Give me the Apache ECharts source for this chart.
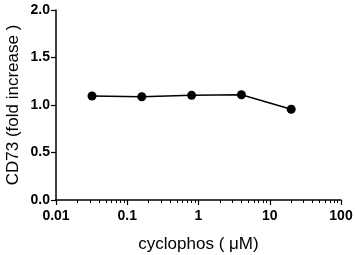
<!DOCTYPE html>
<html>
<head>
<meta charset="utf-8">
<script src="https://cdn.jsdelivr.net/npm/echarts@6/dist/echarts.min.js"></script>
<style>
  html, body { margin: 0; padding: 0; background: #fff; }
  #chart { width: 355px; height: 255px; }
</style>
</head>
<body>
<div id="chart"></div>
<script>
// 数据
var concentrations = [0.032, 0.16, 0.8, 4, 20];
var foldIncrease = [1.095, 1.087, 1.102, 1.108, 0.955];
var xTickLabels = [0.01, 0.1, 1, 10, 100];
var yTickLabels = [0, 0.5, 1, 1.5, 2];

// 对数轴的次刻度 (2..9 每个十进位)
var minorTicks = [];
for (var d = 0.01; d < 100; d *= 10) {
  for (var k = 2; k <= 9; k++) minorTicks.push(+(d * k).toPrecision(3));
}

var font = 'Arial, "Liberation Sans", sans-serif';
var chart = echarts.init(document.getElementById('chart'));

chart.setOption({
  animation: false,
  grid: { left: 56, right: 14, top: 10, bottom: 55, containLabel: false, outerBoundsMode: 'none' },
  xAxis: [
    {
      type: 'log',
      logBase: 10,
      min: 0.01,
      max: 100,
      name: 'cyclophos ( \u03bcM)',
      nameLocation: 'middle',
      nameGap: 36,
      nameMoveOverlap: false,
      nameTextStyle: { color: '#000', fontSize: 17, fontFamily: font },
      axisLine: { show: true, lineStyle: { color: '#000', width: 1.5 } },
      axisTick: { show: true, length: 5, lineStyle: { color: '#000', width: 1.2 }, customValues: xTickLabels },
      axisLabel: {
        color: '#000', fontSize: 14, fontWeight: 'bold', fontFamily: font, margin: 9,
        customValues: xTickLabels,
        formatter: function (v) { return String(+(+v).toPrecision(3)); }
      },
      splitLine: { show: false },
      minorTick: { show: false }
    },
    {
      // 次刻度轴（只画短刻度）
      type: 'log',
      logBase: 10,
      min: 0.01,
      max: 100,
      position: 'bottom',
      axisLine: { show: false },
      axisTick: { show: true, length: 3, lineStyle: { color: '#000', width: 1 }, customValues: minorTicks },
      axisLabel: { show: false },
      splitLine: { show: false }
    }
  ],
  yAxis: {
    type: 'value',
    min: 0,
    max: 2,
    interval: 0.5,
    name: 'CD73 (fold increase )',
    nameLocation: 'middle',
    nameGap: 34,
    nameMoveOverlap: false,
    nameTextStyle: { color: '#000', fontSize: 17, fontFamily: font },
    axisLine: { show: true, lineStyle: { color: '#000', width: 1.5 } },
    axisTick: { show: true, length: 5, lineStyle: { color: '#000', width: 1.2 } },
    axisLabel: {
      color: '#000', fontSize: 14, fontWeight: 'bold', fontFamily: font, margin: 6,
      formatter: function (v) { return v.toFixed(1); }
    },
    splitLine: { show: false }
  },
  series: [{
    type: 'line',
    xAxisIndex: 0,
    data: concentrations.map(function (c, i) { return [c, foldIncrease[i]]; }),
    symbol: 'circle',
    symbolSize: 9,
    itemStyle: { color: '#000' },
    lineStyle: { color: '#000', width: 1.5 }
  }]
});
</script>
</body>
</html>
